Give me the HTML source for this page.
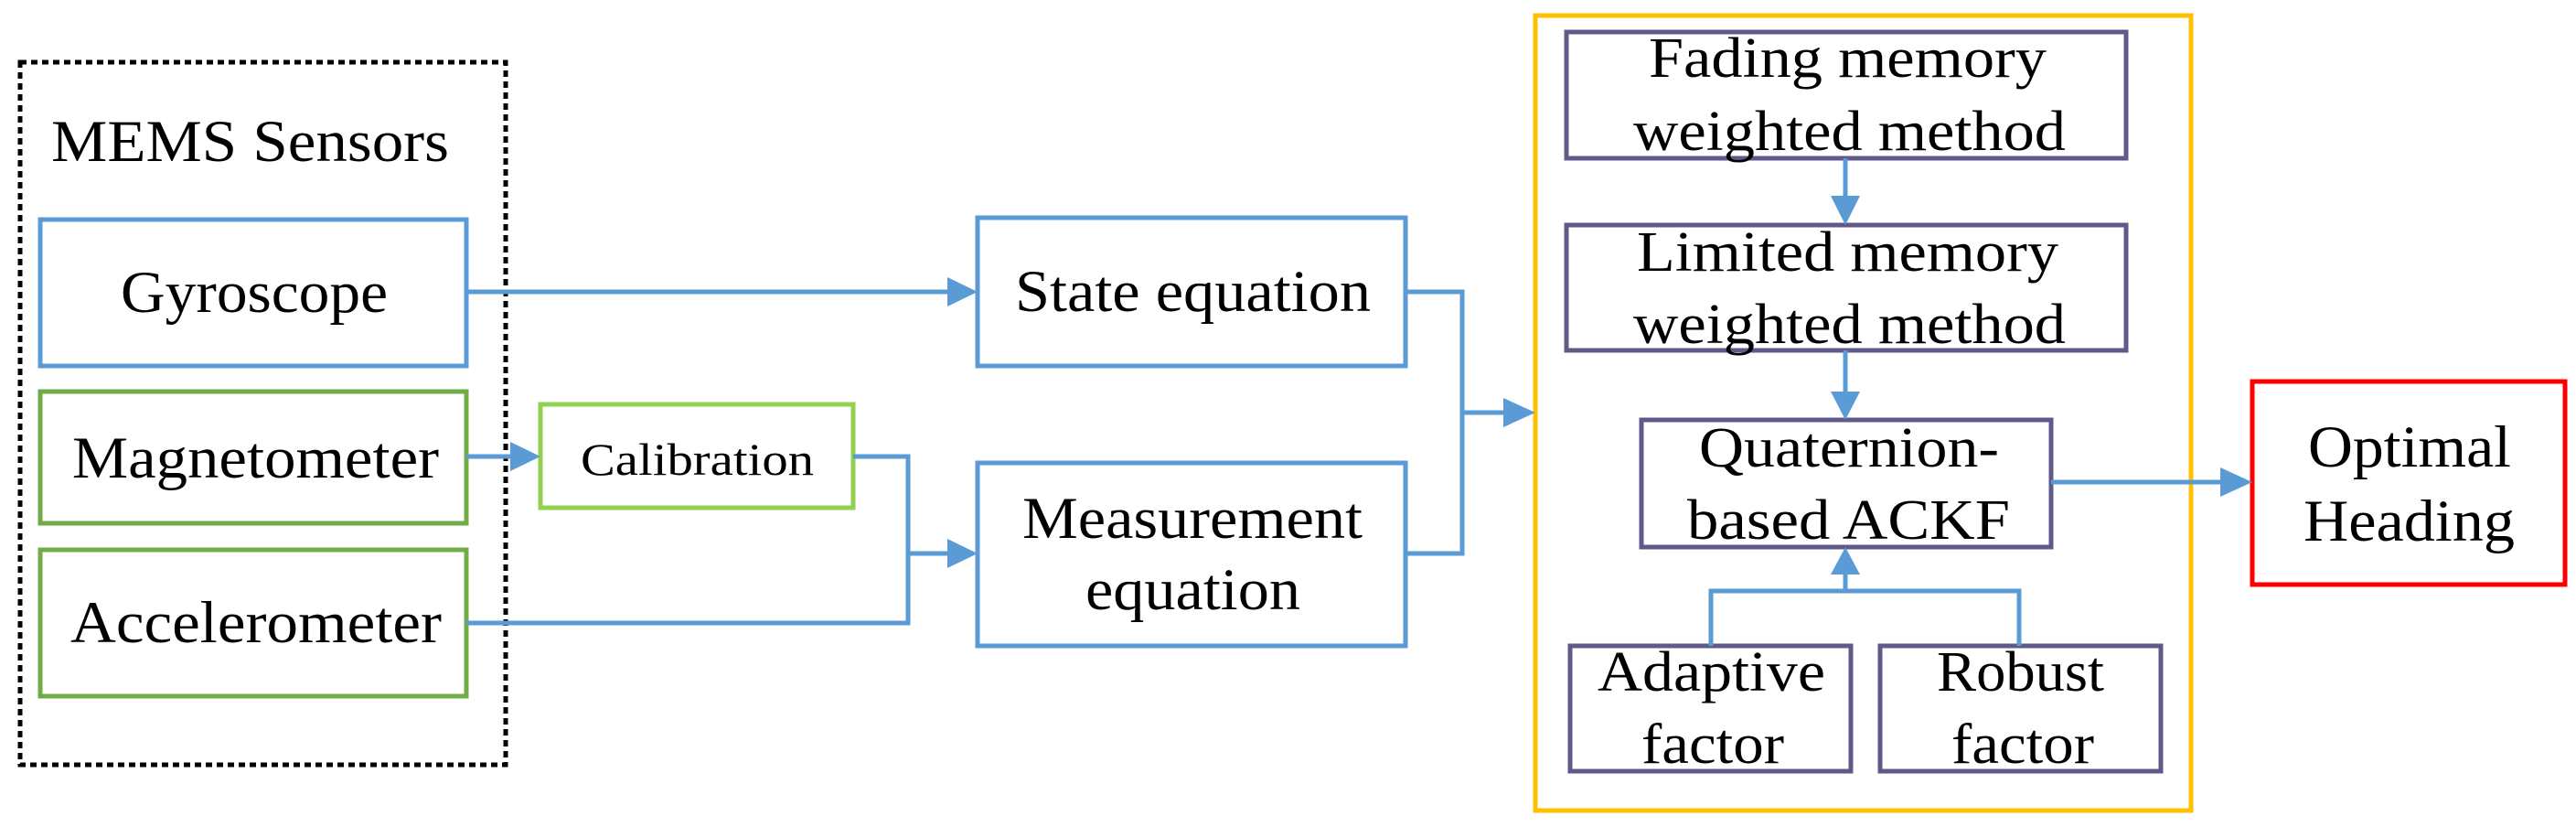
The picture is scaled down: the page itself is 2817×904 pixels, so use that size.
<!DOCTYPE html>
<html><head><meta charset="utf-8"><style>html,body{margin:0;padding:0;background:#fff}svg{display:block}</style></head>
<body>
<svg width="2817" height="904" viewBox="0 0 2817 904" xmlns="http://www.w3.org/2000/svg" font-family="Liberation Serif, Times New Roman, serif" fill="#000">
<g fill="none" stroke-width="5">
<rect x="22" y="68" width="531" height="768" stroke="#000" stroke-dasharray="7,5" stroke-width="5"/>
<rect x="44" y="240" width="466" height="160" stroke="#5b9bd5"/>
<rect x="44" y="428" width="466" height="144" stroke="#70ad47"/>
<rect x="44" y="601" width="466" height="160" stroke="#70ad47"/>
<rect x="591" y="442" width="342" height="113" stroke="#92d050"/>
<rect x="1069" y="238" width="468" height="162" stroke="#5b9bd5"/>
<rect x="1069" y="506" width="468" height="200" stroke="#5b9bd5"/>
<rect x="1679" y="17" width="717" height="869" stroke="#ffc000"/>
<rect x="1713" y="35" width="612" height="138" stroke="#5f5a8a"/>
<rect x="1713" y="246" width="612" height="137" stroke="#5f5a8a"/>
<rect x="1795" y="459" width="448" height="139" stroke="#5f5a8a"/>
<rect x="1717" y="706" width="307" height="137" stroke="#5f5a8a"/>
<rect x="2056" y="706" width="307" height="137" stroke="#5f5a8a"/>
<rect x="2463" y="417" width="342" height="222" stroke="#ff0000"/>
<g stroke="#5b9bd5">
<path d="M510 319 H1036"/>
<path d="M510 499 H560"/>
<path d="M933 499 H993 V681 H510"/>
<path d="M993 605 H1036"/>
<path d="M1537 319 H1599 V605 H1537"/>
<path d="M1599 451 H1646"/>
<path d="M2018 173 V216"/>
<path d="M2018 383 V430"/>
<path d="M1871 706 V646 H2208 V706"/>
<path d="M2018 646 V626"/>
<path d="M2243 527 H2430"/>
</g>
</g>
<g fill="#5b9bd5">
<polygon points="1036,303 1069,319 1036,335"/>
<polygon points="558,483 591,499 558,515"/>
<polygon points="1036,589 1069,605 1036,621"/>
<polygon points="1644,435 1679,451 1644,467"/>
<polygon points="2002,214 2018,246 2034,214"/>
<polygon points="2002,428 2018,459 2034,428"/>
<polygon points="2002,628 2018,598 2034,628"/>
<polygon points="2428,511 2463,527 2428,543"/>
</g>
<g font-size="65">
<text x="56" y="176" textLength="435" lengthAdjust="spacingAndGlyphs">MEMS Sensors</text>
<text x="132" y="341" textLength="292" lengthAdjust="spacingAndGlyphs">Gyroscope</text>
<text x="79" y="522" textLength="401" lengthAdjust="spacingAndGlyphs">Magnetometer</text>
<text x="77" y="702" textLength="406" lengthAdjust="spacingAndGlyphs">Accelerometer</text>
<text x="635" y="519" font-size="50" textLength="255" lengthAdjust="spacingAndGlyphs">Calibration</text>
<text x="1110" y="340" textLength="389" lengthAdjust="spacingAndGlyphs">State equation</text>
<text x="1118" y="588" textLength="372" lengthAdjust="spacingAndGlyphs">Measurement</text>
<text x="1187" y="666" textLength="235" lengthAdjust="spacingAndGlyphs">equation</text>
<text x="1803" y="84" font-size="62" textLength="435" lengthAdjust="spacingAndGlyphs">Fading memory</text>
<text x="1786" y="164" font-size="62" textLength="473" lengthAdjust="spacingAndGlyphs">weighted method</text>
<text x="1790" y="296" font-size="62" textLength="461" lengthAdjust="spacingAndGlyphs">Limited memory</text>
<text x="1786" y="375" font-size="62" textLength="473" lengthAdjust="spacingAndGlyphs">weighted method</text>
<text x="1858" y="510" font-size="62" textLength="328" lengthAdjust="spacingAndGlyphs">Quaternion-</text>
<text x="1845" y="589" font-size="62" textLength="353" lengthAdjust="spacingAndGlyphs">based ACKF</text>
<text x="1747" y="755" font-size="62" textLength="249" lengthAdjust="spacingAndGlyphs">Adaptive</text>
<text x="1795" y="834" font-size="62" textLength="156" lengthAdjust="spacingAndGlyphs">factor</text>
<text x="2118" y="755" font-size="62" textLength="183" lengthAdjust="spacingAndGlyphs">Robust</text>
<text x="2134" y="834" font-size="62" textLength="156" lengthAdjust="spacingAndGlyphs">factor</text>
<text x="2524" y="510" textLength="222" lengthAdjust="spacingAndGlyphs">Optimal</text>
<text x="2519" y="591" textLength="231" lengthAdjust="spacingAndGlyphs">Heading</text>
</g>
</svg>
</body></html>
